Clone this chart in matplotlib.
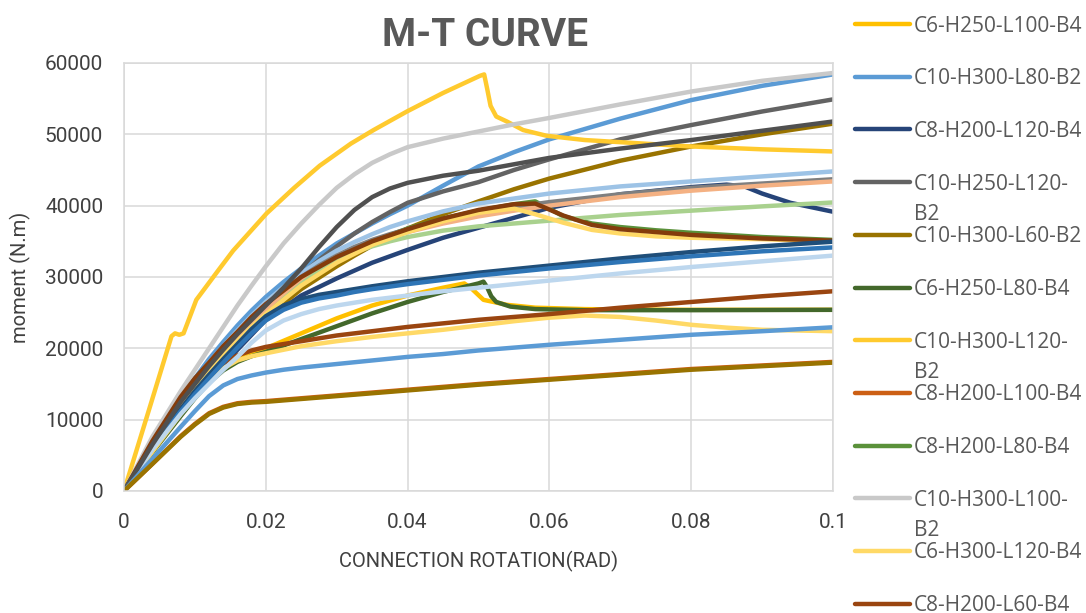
import matplotlib
matplotlib.use('Agg')
import matplotlib.pyplot as plt
from matplotlib.lines import Line2D

# rotation grid shared by most of the series (rad)
theta = [0, 0.004, 0.008, 0.01, 0.012, 0.014, 0.016, 0.018, 0.02, 0.0225, 0.025, 0.0275,
         0.03, 0.0325, 0.035, 0.0375, 0.04, 0.045, 0.05, 0.055, 0.06, 0.07, 0.08, 0.09, 0.1]

# series, moment in N.m
theta_c6_h250_l100_b4 = [0, 0.004, 0.008, 0.01, 0.012, 0.014, 0.016, 0.018, 0.02, 0.025, 0.03,
                         0.035, 0.04, 0.045, 0.048, 0.049, 0.0507, 0.054, 0.058, 0.065, 0.07,
                         0.08, 0.09, 0.1]
m_c6_h250_l100_b4 = [0, 5500, 10800, 13300, 15500, 17300, 18500, 19300, 20000, 22100, 24200,
                     26000, 27400, 28500, 29100, 28400, 26800, 26100, 25700, 25500, 25450,
                     25400, 25400, 25400]

m_c10_h300_l80_b2 = [0, 7000, 13000, 15800, 18500, 20900, 23200, 25300, 27200, 29300, 31200,
                     33000, 34700, 36100, 37500, 38800, 40000, 42800, 45500, 47500, 49300,
                     52200, 54800, 56800, 58400]

theta_c8_h200_l120_b4 = [0, 0.004, 0.008, 0.01, 0.012, 0.014, 0.016, 0.018, 0.02, 0.025, 0.03,
                         0.035, 0.04, 0.045, 0.05, 0.06, 0.07, 0.08, 0.085, 0.0875, 0.09,
                         0.094, 0.1]
m_c8_h200_l120_b4 = [0, 6000, 11000, 13300, 15500, 17700, 19800, 21900, 24000, 27400, 29800,
                     32000, 33800, 35500, 36900, 39700, 41600, 42600, 42950, 42700, 41700,
                     40400, 39150]

m_c10_h250_l120_b2 = [0, 6800, 12500, 15100, 17500, 19700, 21800, 23800, 25800, 28100, 30300,
                      32400, 34300, 36100, 37700, 39100, 40400, 42000, 43300, 45000, 46500,
                      49300, 51300, 53200, 54900]

m_c10_h300_l60_b2 = [0, 6500, 12000, 14300, 16500, 18500, 20500, 22400, 24300, 26300, 28300,
                     29900, 31500, 33000, 34400, 35600, 36800, 38800, 40600, 42300, 43800,
                     46300, 48300, 50000, 51500]

theta_c6_h250_l80_b4 = [0, 0.004, 0.008, 0.01, 0.012, 0.014, 0.016, 0.018, 0.02, 0.025, 0.03,
                        0.035, 0.04, 0.045, 0.05, 0.0507, 0.0512, 0.0518, 0.0525, 0.0545,
                        0.058, 0.065, 0.08, 0.1]
m_c6_h250_l80_b4 = [0, 5400, 10500, 13000, 15200, 16900, 18100, 18900, 19500, 21300, 23100,
                    24900, 26500, 27900, 29100, 29350, 28600, 27300, 26500, 25850, 25500,
                    25350, 25350, 25400]

theta_c10_h300_l120_b2 = [0, 0.0035, 0.0067, 0.0072, 0.0078, 0.0084, 0.0102, 0.0135, 0.0154,
                          0.0201, 0.024, 0.0276, 0.032, 0.0352, 0.0399, 0.045, 0.0502, 0.0508,
                          0.0512, 0.0517, 0.0525, 0.054, 0.0563, 0.0596, 0.065, 0.07, 0.08,
                          0.09, 0.1]
m_c10_h300_l120_b2 = [0, 11300, 21700, 22100, 21900, 22100, 26800, 31200, 33700, 38900, 42500,
                      45600, 48700, 50600, 53200, 55800, 58200, 58400, 56500, 54000, 52500,
                      51800, 50600, 49800, 49200, 48900, 48300, 47900, 47600]

m_c8_h200_l100_b4 = [0, 3800, 7700, 9400, 10900, 11800, 12300, 12500, 12600, 12800, 13000,
                     13200, 13400, 13600, 13800, 14000, 14200, 14600, 15000, 15350, 15700,
                     16400, 17100, 17600, 18100]

# series with the hump near 0.057 rad
theta_hump = [0, 0.004, 0.008, 0.01, 0.012, 0.014, 0.016, 0.018, 0.02, 0.025, 0.03, 0.035,
              0.04, 0.045, 0.05, 0.055, 0.058, 0.062, 0.066, 0.07, 0.075, 0.08, 0.09, 0.1]
m_c8_h200_l80_b4 = [0, 6500, 12000, 14600, 17000, 19200, 21300, 23200, 25000, 29000, 32500,
                    35000, 36800, 38200, 39300, 40200, 40600, 38500, 37500, 37000, 36550,
                    36200, 35600, 35200]

m_c10_h300_l100_b2 = [0, 7600, 14000, 17000, 20000, 23000, 26000, 28800, 31500, 34700, 37500,
                      40100, 42500, 44400, 46000, 47200, 48200, 49400, 50400, 51400, 52300,
                      54200, 56000, 57500, 58600]

theta_c6_h300_l120_b4 = [0, 0.004, 0.008, 0.01, 0.012, 0.014, 0.016, 0.018, 0.02, 0.025, 0.03,
                         0.035, 0.04, 0.045, 0.05, 0.055, 0.06, 0.065, 0.07, 0.075, 0.08,
                         0.085, 0.09, 0.1]
m_c6_h300_l120_b4 = [0, 5500, 10800, 13300, 15500, 17200, 18300, 18900, 19300, 20300, 21000,
                     21600, 22100, 22600, 23200, 23800, 24300, 24600, 24400, 23900, 23300,
                     22900, 22600, 22400]

m_c8_h200_l60_b4 = [0, 6000, 11500, 14000, 16300, 18000, 19000, 19700, 20200, 20600, 21000,
                    21400, 21800, 22100, 22400, 22700, 23000, 23500, 24000, 24400, 24800,
                    25700, 26500, 27300, 28000]

# further series whose legend entries are cut off in the original
m_extra_lightblue = [0, 6800, 12800, 15500, 18000, 20300, 22500, 24600, 26500, 28600, 30500,
                     32200, 33700, 34900, 36000, 37000, 37800, 39200, 40300, 41000, 41700,
                     42700, 43400, 44100, 44800]
m_extra_gray = [0, 6700, 12500, 15100, 17500, 19800, 22000, 24100, 26000, 28100, 30000,
                31600, 33000, 34200, 35200, 36000, 36700, 38000, 39100, 39800, 40500,
                41600, 42500, 43100, 43700]
m_extra_lightorange = [0, 6600, 12300, 14800, 17200, 19400, 21600, 23600, 25500, 27600, 29500,
                       31100, 32600, 33800, 34800, 35600, 36300, 37500, 38500, 39300, 40000,
                       41200, 42100, 42800, 43400]
m_extra_lightgreen = [0, 6300, 11800, 14200, 16500, 18600, 20700, 22600, 24500, 26900, 29000,
                      30900, 32500, 33500, 34300, 35000, 35600, 36500, 37100, 37500, 37900,
                      38700, 39300, 39900, 40450]
m_extra_brown_hump = [0, 7000, 13200, 15800, 18000, 20300, 22300, 24400, 26200, 30000, 32800,
                      35000, 36700, 38200, 39400, 40200, 40300, 38600, 37300, 36700, 36300,
                      35900, 35400, 35100]
m_extra_gold_hump = [0, 6500, 12000, 14500, 16800, 19000, 21000, 23000, 24800, 28800, 32000,
                     34500, 36300, 37800, 39000, 39600, 38800, 37600, 36600, 36100, 35700,
                     35500, 35300, 35000]
m_extra_navy = [0, 6300, 11500, 14000, 16300, 18500, 20600, 22700, 24500, 26000, 26900,
                27500, 27900, 28300, 28700, 29050, 29400, 30000, 30600, 31100, 31600,
                32600, 33500, 34300, 34950]
m_extra_blue = [0, 6000, 11200, 13600, 15800, 18000, 20100, 22100, 23900, 25400, 26400,
                27000, 27400, 27900, 28300, 28650, 29000, 29600, 30200, 30700, 31200,
                32100, 32900, 33600, 34150]
m_extra_paleblue = [0, 5800, 10800, 13000, 15000, 17000, 18800, 20800, 22500, 23900, 24800,
                    25500, 26000, 26400, 26800, 27100, 27400, 28000, 28500, 29000, 29500,
                    30500, 31400, 32200, 33000]
m_extra_darkgray = [0, 6500, 12500, 15000, 17500, 19800, 22000, 24000, 26000, 28500, 31200,
                    34200, 37000, 39400, 41200, 42400, 43200, 44200, 44900, 45800, 46700,
                    48000, 49200, 50500, 51800]
m_extra_lowblue = [0, 4500, 9000, 11200, 13300, 14800, 15700, 16200, 16600, 17000, 17300,
                   17550, 17800, 18050, 18300, 18550, 18800, 19200, 19700, 20100, 20500,
                   21200, 21900, 22400, 22950]
m_extra_lowolive = [0, 3800, 7600, 9300, 10800, 11700, 12200, 12400, 12500, 12700, 12900,
                    13100, 13300, 13500, 13700, 13900, 14100, 14500, 14900, 15250, 15600,
                    16300, 17000, 17500, 18000]

legend_names = ['C6-H250-L100-B4', 'C10-H300-L80-B2', 'C8-H200-L120-B4', 'C10-H250-L120-B2',
                'C10-H300-L60-B2', 'C6-H250-L80-B4', 'C10-H300-L120-B2', 'C8-H200-L100-B4',
                'C8-H200-L80-B4', 'C10-H300-L100-B2', 'C6-H300-L120-B4', 'C8-H200-L60-B4']

x_ticks = [0, 0.02, 0.04, 0.06, 0.08, 0.1]
x_tick_labels = ['0', '0.02', '0.04', '0.06', '0.08', '0.1']
y_ticks = [0, 10000, 20000, 30000, 40000, 50000, 60000]

# (x, y, colour, name) in drawing order
series = [
    (theta_c6_h250_l100_b4, m_c6_h250_l100_b4, '#FFC000', legend_names[0]),
    (theta, m_c10_h300_l80_b2, '#5B9BD5', legend_names[1]),
    (theta_c8_h200_l120_b4, m_c8_h200_l120_b4, '#264478', legend_names[2]),
    (theta, m_c10_h250_l120_b2, '#636363', legend_names[3]),
    (theta, m_c10_h300_l60_b2, '#997300', legend_names[4]),
    (theta_c6_h250_l80_b4, m_c6_h250_l80_b4, '#43682B', legend_names[5]),
    (theta_c10_h300_l120_b2, m_c10_h300_l120_b2, '#FFCA2E', legend_names[6]),
    (theta, m_c8_h200_l100_b4, '#CC5F14', legend_names[7]),
    (theta_hump, m_c8_h200_l80_b4, '#5A913A', legend_names[8]),
    (theta, m_c10_h300_l100_b2, '#C9C9C9', legend_names[9]),
    (theta_c6_h300_l120_b4, m_c6_h300_l120_b4, '#FFD966', legend_names[10]),
    (theta, m_c8_h200_l60_b4, '#9A4510', legend_names[11]),
    (theta, m_extra_lightblue, '#9DC3E6', None),
    (theta, m_extra_gray, '#7F7F7F', None),
    (theta, m_extra_lightorange, '#F4B183', None),
    (theta, m_extra_lightgreen, '#A9D18E', None),
    (theta_hump, m_extra_gold_hump, '#FFD966', None),
    (theta_hump, m_extra_brown_hump, '#843C0C', None),
    (theta, m_extra_navy, '#1F4E79', None),
    (theta, m_extra_blue, '#2E75B6', None),
    (theta, m_extra_paleblue, '#BDD7EE', None),
    (theta, m_extra_darkgray, '#505050', None),
    (theta, m_extra_lowblue, '#5B9BD5', None),
    (theta, m_extra_lowolive, '#997300', None),
]

W, H = 1086, 613
fig = plt.figure(figsize=(W / 100, H / 100), dpi=100)
ax = fig.add_axes([124 / W, 122 / H, 709 / W, 428 / H])

for xs, ys, col, name in series:
    ax.plot(xs, ys, color=col, lw=3.2, solid_joinstyle='round', solid_capstyle='round')

ax.set_xlim(0, 0.1)
ax.set_ylim(0, 60000)
ax.set_xticks(x_ticks)
ax.set_xticklabels(x_tick_labels)
ax.set_yticks(y_ticks)
ax.set_yticklabels([str(v) for v in y_ticks])
ax.grid(True, color='#D9D9D9', lw=1.1)
ax.set_axisbelow(True)
for sp in ax.spines.values():
    sp.set_color('#D9D9D9')
    sp.set_linewidth(1.1)
ax.tick_params(length=0, labelsize=15, labelcolor='#404040')
ax.tick_params(axis='x', pad=16)
ax.tick_params(axis='y', pad=15)
for lab in ax.get_xticklabels() + ax.get_yticklabels():
    lab.set_family('Roboto')

fig.text(484.5 / W, 1 - 36 / H, 'M-T CURVE', ha='center', va='center', fontsize=28,
         fontweight='bold', color='#595959', family='Roboto')
fig.text(478.5 / W, 1 - 561 / H, 'CONNECTION ROTATION(RAD)', ha='center', va='center',
         fontsize=14.5, color='#404040', family='Roboto')
fig.text(20 / W, 1 - 277 / H, 'moment (N.m)', ha='center', va='center', rotation=90,
         fontsize=14.5, color='#404040', family='Roboto')

# legend column on the right, cut off at the bottom like the original
for i, (xs, ys, col, name) in enumerate(series[:12]):
    y = 24 + 52.7 * i
    fig.add_artist(Line2D([855 / W, 910 / W], [1 - y / H, 1 - y / H], color=col, lw=3.2,
                          solid_capstyle='round'))
    if len(name) > 15:
        cut = name.rfind('-') + 1
        lines = [name[:cut], name[cut:]]
    else:
        lines = [name]
    for k, part in enumerate(lines):
        fig.text(914 / W, 1 - (y + 7.5 + 30 * k) / H, part, va='baseline', ha='left',
                 fontsize=15, color='#595959', family='Open Sans')

fig.savefig('out.png', dpi=100)
